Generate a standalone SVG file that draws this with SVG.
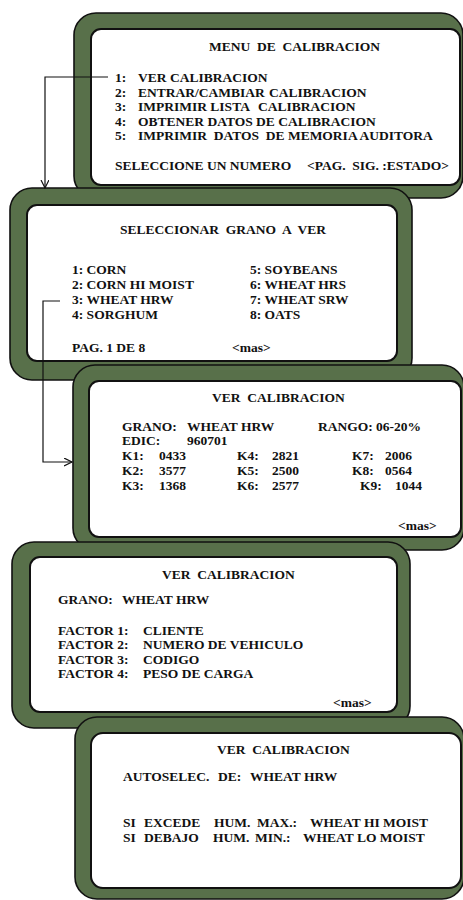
<svg xmlns="http://www.w3.org/2000/svg" width="463" height="900" viewBox="0 0 463 900">
<defs>
<style>
.outer{fill:#58704a;stroke:#111;stroke-width:1.6}
.inner{fill:#fff;stroke:#111;stroke-width:2}
text{font-family:"Liberation Serif","Times New Roman",serif;font-weight:bold;font-size:13.5px;fill:#111}
.conn{fill:none;stroke:#111;stroke-width:1.2}
</style>
<marker id="arr" markerWidth="10" markerHeight="10" refX="8" refY="4" orient="auto" markerUnits="userSpaceOnUse">
<path d="M0,0 L8,4 L0,8" fill="none" stroke="#111" stroke-width="1.2"/>
</marker>
</defs>
<rect width="463" height="900" fill="#fff"/>

<g id="menu">
<rect class="outer" x="74" y="13" width="389" height="185" rx="22"/>
<rect class="inner" x="91" y="29" width="369" height="156" rx="10"/>
<text x="209" y="51" xml:space="preserve">MENU  DE  CALIBRACION</text>
<text x="115" y="82">1:</text><text x="138" y="82">VER</text><text x="170" y="82">CALIBRACION</text>
<text x="115" y="96.5">2:</text><text x="138" y="96.5">ENTRAR/CAMBIAR</text><text x="269" y="96.5">CALIBRACION</text>
<text x="115" y="111">3:</text><text x="138" y="111">IMPRIMIR LISTA</text><text x="258" y="111">CALIBRACION</text>
<text x="115" y="125.5">4:</text><text x="138" y="125.5">OBTENER DATOS DE CALIBRACION</text>
<text x="115" y="140">5:</text><text x="138" y="140" xml:space="preserve">IMPRIMIR  DATOS  DE MEMORIA AUDITORA</text>
<text x="115" y="170">SELECCIONE UN NUMERO</text>
<text x="307" y="170" xml:space="preserve">&lt;PAG.  SIG. :ESTADO&gt;</text>
</g>

<g id="seleccionar">
<rect class="outer" x="10" y="188" width="402" height="192" rx="22"/>
<rect class="inner" x="27" y="205" width="370" height="156" rx="10"/>
<text x="120" y="234" xml:space="preserve">SELECCIONAR  GRANO  A  VER</text>
<text x="72" y="274">1: CORN</text>
<text x="72" y="289">2: CORN HI MOIST</text>
<text x="72" y="304">3: WHEAT HRW</text>
<text x="72" y="319">4: SORGHUM</text>
<text x="250" y="274">5: SOYBEANS</text>
<text x="250" y="289">6: WHEAT HRS</text>
<text x="250" y="304">7: WHEAT SRW</text>
<text x="250" y="319">8: OATS</text>
<text x="72" y="352">PAG. 1 DE 8</text>
<text x="232" y="352">&lt;mas&gt;</text>
</g>

<g id="ver1">
<rect class="outer" x="73" y="365" width="391" height="185" rx="22"/>
<rect class="inner" x="89" y="381" width="372" height="156" rx="10"/>
<text x="212" y="402" xml:space="preserve">VER  CALIBRACION</text>
<text x="122" y="431">GRANO:</text><text x="187" y="431">WHEAT HRW</text><text x="318" y="431">RANGO: 06-20%</text>
<text x="122" y="445">EDIC:</text><text x="187" y="445">960701</text>
<text x="122" y="460">K1:</text><text x="159" y="460">0433</text><text x="237" y="460">K4:</text><text x="272" y="460">2821</text><text x="352" y="460">K7:</text><text x="385" y="460">2006</text>
<text x="122" y="475">K2:</text><text x="159" y="475">3577</text><text x="237" y="475">K5:</text><text x="272" y="475">2500</text><text x="352" y="475">K8:</text><text x="385" y="475">0564</text>
<text x="122" y="490">K3:</text><text x="159" y="490">1368</text><text x="237" y="490">K6:</text><text x="272" y="490">2577</text><text x="360" y="490">K9:</text><text x="395" y="490">1044</text>
<text x="398" y="530">&lt;mas&gt;</text>
</g>

<g id="ver2">
<rect class="outer" x="12" y="542" width="398" height="186" rx="22"/>
<rect class="inner" x="30" y="557" width="367" height="155" rx="10"/>
<text x="162" y="579" xml:space="preserve">VER  CALIBRACION</text>
<text x="58" y="604">GRANO:</text><text x="122" y="604">WHEAT HRW</text>
<text x="58" y="634.5">FACTOR 1:</text><text x="143" y="634.5">CLIENTE</text>
<text x="58" y="649">FACTOR 2:</text><text x="143" y="649">NUMERO DE VEHICULO</text>
<text x="58" y="663.5">FACTOR 3:</text><text x="143" y="663.5">CODIGO</text>
<text x="58" y="678">FACTOR 4:</text><text x="143" y="678">PESO DE CARGA</text>
<text x="333" y="707">&lt;mas&gt;</text>
</g>

<g id="ver3">
<rect class="outer" x="75" y="717" width="389" height="182" rx="22"/>
<rect class="inner" x="91" y="733" width="370" height="155" rx="12"/>
<text x="217" y="754" xml:space="preserve">VER  CALIBRACION</text>
<text x="123" y="781">AUTOSELEC.</text><text x="218" y="781">DE:</text><text x="250" y="781">WHEAT HRW</text>
<text x="123" y="827">SI</text><text x="144" y="827">EXCEDE</text><text x="214" y="827">HUM.</text><text x="257" y="827">MAX.:</text><text x="310" y="827">WHEAT HI MOIST</text>
<text x="123" y="842">SI</text><text x="144" y="842">DEBAJO</text><text x="213" y="842">HUM.</text><text x="255" y="842">MIN.:</text><text x="303" y="842">WHEAT LO MOIST</text>
</g>

<g id="connectors">
<path class="conn" d="M108,77 H45 V188" marker-end="url(#arr)"/>
<path class="conn" d="M60,301 H43 V462 H72" marker-end="url(#arr)"/>
</g>
</svg>
